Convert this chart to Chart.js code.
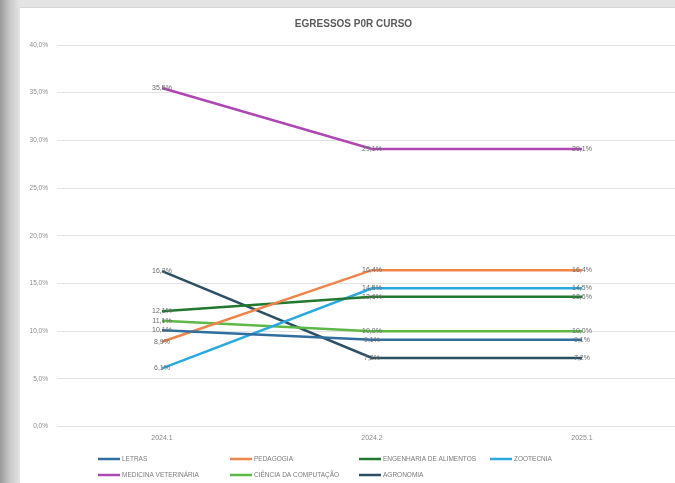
<!DOCTYPE html>
<html>
<head>
<meta charset="utf-8">
<script src="https://cdn.jsdelivr.net/npm/chart.js@4"></script>
<style>
  html, body { margin: 0; padding: 0; width: 675px; height: 483px; overflow: hidden; }
  body { background: linear-gradient(90deg, #9a9a9a 0px, #c9c9c9 10px, #e4e4e4 20px); position: relative; }
  #wrap { position: absolute; left: 20px; top: 7px; width: 680px; height: 476px; background: #fff; border-top: 1px solid #d6d6d6; }
</style>
</head>
<body>
<div id="wrap"><canvas id="myChart" width="680" height="476"></canvas></div>
<script>
var categories = ["2024.1", "2024.2", "2025.1"];
var courses = ["LETRAS", "PEDAGOGIA", "ENGENHARIA DE ALIMENTOS", "ZOOTECNIA", "MEDICINA VETERINÁRIA", "CIÊNCIA DA COMPUTAÇÃO", "AGRONOMIA"];
var letras = [10.1, 9.1, 9.1];
var pedagogia = [8.9, 16.4, 16.4];
var engenharia = [12.1, 13.6, 13.6];
var zootecnia = [6.1, 14.5, 14.5];
var medicina = [35.5, 29.1, 29.1];
var ciencia = [11.1, 10.0, 10.0];
var agronomia = [16.3, 7.2, 7.2];
var colors = ['#2f6e9e', '#f0844a', '#23782f', '#2aa9e0', '#ae47b4', '#5cb946', '#2d4f63'];
var yTicks = [0, 5, 10, 15, 20, 25, 30, 35, 40];

var series = [letras, pedagogia, engenharia, zootecnia, medicina, ciencia, agronomia];

function pct(v) {
    return v.toFixed(1).replace('.', ',') + '%';
}

// labels centered on each point, drawn over the lines
var pointLabels = {
    id: 'pointLabels',
    afterDatasetsDraw: function (chart) {
        var c = chart.ctx;
        c.save();
        c.font = '7px "Liberation Sans", Arial, sans-serif';
        c.fillStyle = '#6a6a6a';
        c.textAlign = 'center';
        c.textBaseline = 'middle';
        chart.data.datasets.forEach(function (ds, i) {
            chart.getDatasetMeta(i).data.forEach(function (pt, j) {
                c.fillText(pct(ds.data[j]), pt.x, pt.y);
            });
        });
        c.restore();
    }
};

// legend laid out in columns like the original
var gridLegend = {
    id: 'gridLegend',
    afterDraw: function (chart) {
        var c = chart.ctx;
        var cols = [78, 210, 339, 470];
        var rows = [451, 467];
        c.save();
        c.font = '6.5px "Liberation Sans", Arial, sans-serif';
        c.textBaseline = 'middle';
        c.textAlign = 'left';
        chart.data.datasets.forEach(function (ds, i) {
            var x = cols[i % 4], y = rows[Math.floor(i / 4)];
            c.strokeStyle = ds.borderColor;
            c.lineWidth = 2.5;
            c.beginPath();
            c.moveTo(x, y);
            c.lineTo(x + 22, y);
            c.stroke();
            c.fillStyle = '#7a7a7a';
            c.fillText(ds.label, x + 24, y);
        });
        c.restore();
    }
};

var ctx = document.getElementById('myChart').getContext('2d');

var myChart = new Chart(ctx, {
    type: 'line',
    data: {
        labels: categories,
        datasets: series.map(function (s, i) {
            return {
                label: courses[i],
                data: s,
                borderColor: colors[i],
                backgroundColor: colors[i],
                borderWidth: 2.5,
                pointRadius: 0,
                tension: 0
            };
        })
    },
    options: {
        responsive: false,
        animation: false,
        layout: { padding: { left: 0, right: 13, top: 0, bottom: 35 } },
        plugins: {
            legend: { display: false },
            tooltip: { enabled: false },
            title: {
                display: true,
                text: 'EGRESSOS P0R CURSO',
                color: '#5a5a5a',
                font: { size: 10, weight: 'bold', family: '"Liberation Sans", Arial, sans-serif' },
                padding: { top: 10, bottom: 15 }
            }
        },
        scales: {
            x: {
                offset: true,
                grid: { display: false, drawTicks: false },
                border: { display: false },
                ticks: { color: '#8a8a8a', padding: 7, font: { size: 7, family: '"Liberation Sans", Arial, sans-serif' } }
            },
            y: {
                min: 0,
                max: 40,
                afterBuildTicks: function (scale) {
                    scale.ticks = yTicks.map(function (v) { return { value: v }; });
                },
                afterFit: function (scale) { scale.width = 37; },
                grid: { color: '#e3e3e3', lineWidth: 1, drawTicks: false },
                border: { display: false },
                ticks: {
                    color: '#8a8a8a',
                    padding: 9,
                    font: { size: 6.5, family: '"Liberation Sans", Arial, sans-serif' },
                    callback: function (v) { return pct(v); }
                }
            }
        }
    },
    plugins: [pointLabels, gridLegend]
});
</script>
</body>
</html>
